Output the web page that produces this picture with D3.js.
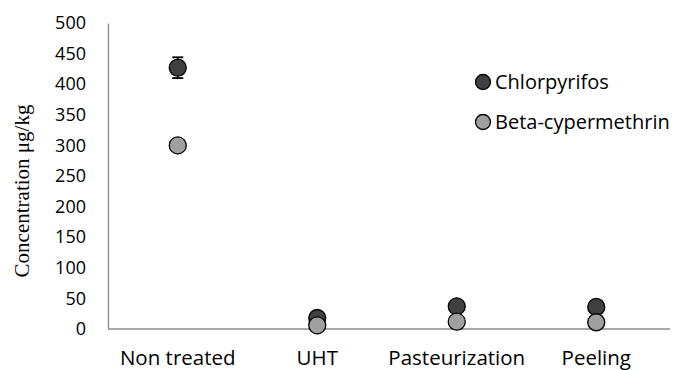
<!DOCTYPE html>
<html>
<head>
<meta charset="utf-8">
<script src="https://cdn.jsdelivr.net/npm/d3@7"></script>
<style>
  html, body { margin: 0; padding: 0; background: #fff; }
  svg { display: block; }
</style>
</head>
<body>
<svg id="chart" width="675" height="370"></svg>
<script>
// Residue concentrations by processing step
const categories = ["Non treated", "UHT", "Pasteurization", "Peeling"];
const chlorpyrifos = [427, 18, 37, 36];
const chlorpyrifosErr = [17, 0, 0, 0];
const betaCypermethrin = [300, 6, 12, 11];
const yTicks = [0, 50, 100, 150, 200, 250, 300, 350, 400, 450, 500];
const seriesNames = ["Chlorpyrifos", "Beta-cypermethrin"];
const seriesColors = ["#404040", "#a0a0a0"];

const svg = d3.select("#chart");
const margin = { left: 108, right: 7, top: 23, bottom: 41 };
const W = 675, H = 370;

const x = d3.scaleBand()
  .domain(categories)
  .range([margin.left, W - margin.right - 2])
  .paddingInner(0).paddingOuter(0);

const y = d3.scaleLinear()
  .domain([0, 500])
  .range([H - margin.bottom, margin.top]);

const sans = "'Open Sans', 'Noto Sans', sans-serif";

// Y axis
const yAxis = svg.append("g")
  .attr("transform", `translate(${margin.left},0)`)
  .call(d3.axisLeft(y).tickValues(yTicks).tickSize(0).tickPadding(22));
yAxis.select(".domain").attr("stroke", "#8c8c8c").attr("stroke-width", 1.3);
yAxis.selectAll("text")
  .attr("font-family", sans).attr("font-size", 18).attr("fill", "#000");

// X axis
const xAxis = svg.append("g")
  .attr("transform", `translate(0,${y(0)})`)
  .call(d3.axisBottom(x).tickSize(0).tickPadding(21));
xAxis.select(".domain").attr("stroke", "#8c8c8c").attr("stroke-width", 1.3)
  .attr("d", `M${margin.left},0H${W - margin.right + 2}`);
xAxis.selectAll("text")
  .attr("font-family", sans).attr("font-size", 20.5).attr("fill", "#000");

// Y axis title
svg.append("text")
  .attr("transform", `translate(29,${(y(0) + y(500)) / 2 + 15}) rotate(-90)`)
  .attr("text-anchor", "middle")
  .attr("font-family", "'Liberation Serif', 'Times New Roman', serif")
  .attr("font-size", 21)
  .attr("fill", "#000")
  .text("Concentration μg/kg");

const cx = d => x(d) + x.bandwidth() / 2;
const r = 8.5;

// Error bars
const errG = svg.append("g");
categories.forEach((c, i) => {
  const e = chlorpyrifosErr[i];
  if (!e) return;
  const v = chlorpyrifos[i];
  errG.append("line")
    .attr("x1", cx(c)).attr("x2", cx(c))
    .attr("y1", y(v + e)).attr("y2", y(v - e))
    .attr("stroke", "#000").attr("stroke-width", 1.5);
  [v + e, v - e].forEach(val => {
    errG.append("line")
      .attr("x1", cx(c) - 5.5).attr("x2", cx(c) + 5.5)
      .attr("y1", y(val)).attr("y2", y(val))
      .attr("stroke", "#000").attr("stroke-width", 1.8);
  });
});

// Points: chlorpyrifos first, beta-cypermethrin on top
[chlorpyrifos, betaCypermethrin].forEach((vals, s) => {
  svg.append("g").selectAll("circle")
    .data(categories)
    .join("circle")
    .attr("cx", d => cx(d))
    .attr("cy", (d, i) => y(vals[i]))
    .attr("r", r)
    .attr("fill", seriesColors[s])
    .attr("stroke", "#000")
    .attr("stroke-width", 1.3);
});

// Legend
const legend = svg.append("g").attr("transform", "translate(483,82)");
seriesNames.forEach((name, i) => {
  const g = legend.append("g").attr("transform", `translate(0,${i * 40})`);
  g.append("circle").attr("r", 7.5)
    .attr("fill", seriesColors[i]).attr("stroke", "#000").attr("stroke-width", 1.3);
  g.append("text")
    .attr("x", 12).attr("y", 7)
    .attr("font-family", sans).attr("font-size", 20).attr("fill", "#000")
    .text(name);
});
</script>
</body>
</html>
